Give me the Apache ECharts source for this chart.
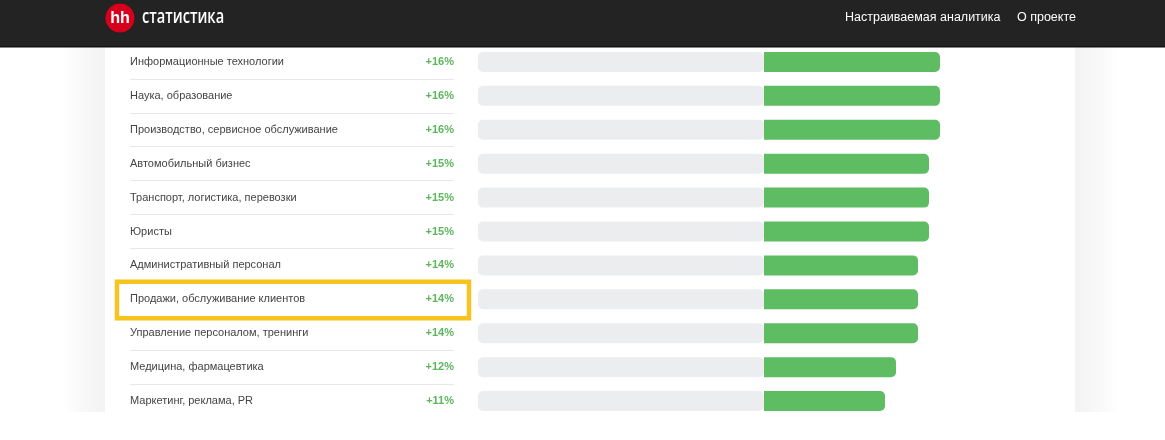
<!DOCTYPE html>
<html>
<head>
<meta charset="utf-8">
<script src="https://cdn.jsdelivr.net/npm/echarts@6/dist/echarts.min.js"></script>
<style>
html,body{margin:0;padding:0;background:#fff;}
#chart{width:1165px;height:440px;}
</style>
</head>
<body>
<div id="chart"></div>
<script>
// ---- data ----
const categories = [
  'Информационные технологии',
  'Наука, образование',
  'Производство, сервисное обслуживание',
  'Автомобильный бизнес',
  'Транспорт, логистика, перевозки',
  'Юристы',
  'Административный персонал',
  'Продажи, обслуживание клиентов',
  'Управление персоналом, тренинги',
  'Медицина, фармацевтика',
  'Маркетинг, реклама, PR'
];
const values = [16, 16, 16, 15, 15, 15, 14, 14, 14, 12, 11];
const percentLabels = ['+16%', '+16%', '+16%', '+15%', '+15%', '+15%', '+14%', '+14%', '+14%', '+12%', '+11%'];
const trackMin = -26;
const trackValues = categories.map(() => trackMin);
const highlightCategory = 'Продажи, обслуживание клиентов';
const headerTitle = 'статистика';
const navItems = ['Настраиваемая аналитика', 'О проекте'];

const FONT = "'Liberation Sans', Arial, sans-serif";
const chart = echarts.init(document.getElementById('chart'), null, {renderer: 'canvas'});

const gridTop = 45, gridBottom = 22;

chart.setOption({
  animation: false,
  backgroundColor: '#ffffff',
  grid: [
    {left: 478, right: 225, top: gridTop, bottom: gridBottom},
    {left: 130, right: 1165 - 454, top: gridTop, bottom: gridBottom}
  ],
  xAxis: [
    {gridIndex: 0, type: 'value', min: trackMin, max: 16, show: false},
    {gridIndex: 1, type: 'value', min: 0, max: 1, show: false}
  ],
  yAxis: [
    {
      gridIndex: 0, type: 'category', data: categories, inverse: true,
      axisLine: {show: false}, axisTick: {show: false}, splitLine: {show: false},
      axisLabel: {align: 'left', margin: 348, color: '#444', fontSize: 11, fontFamily: FONT, padding: [4, 0, 0, 0]}
    },
    {
      gridIndex: 0, type: 'category', data: percentLabels, inverse: true, position: 'left',
      axisLine: {show: false}, axisTick: {show: false}, splitLine: {show: false},
      axisLabel: {align: 'right', margin: 24, color: '#5cb65c', fontSize: 11, fontWeight: 'bold', fontFamily: FONT, padding: [4, 0, 0, 0]}
    },
    {
      gridIndex: 1, type: 'category', data: categories, inverse: true,
      axisLine: {show: false}, axisTick: {show: false}, axisLabel: {show: false},
      splitLine: {show: true, lineStyle: {color: '#e7e7e7', width: 1}}
    }
  ],
  series: [
    {
      type: 'bar', xAxisIndex: 0, yAxisIndex: 0, data: trackValues, barWidth: 20,
      itemStyle: {color: '#ecedef', borderRadius: 5}, silent: true
    },
    {
      type: 'bar', xAxisIndex: 0, yAxisIndex: 0, data: values, barWidth: 20, barGap: '-100%',
      itemStyle: {color: '#5ebd62', borderRadius: [0, 5, 5, 0]}, silent: true
    },
    {
      type: 'bar', xAxisIndex: 1, yAxisIndex: 2, data: categories.map(() => 0), silent: true
    }
  ]
});

// highlight box around the selected category row
const hy = chart.convertToPixel({yAxisIndex: 0}, highlightCategory);
const rowH = (440 - gridTop - gridBottom) / categories.length;

chart.setOption({
  graphic: [
    // card side shading
    {type: 'rect', z: -10, shape: {x: 62, y: 47, width: 43, height: 365},
     style: {fill: new echarts.graphic.LinearGradient(0, 0, 1, 0, [{offset: 0, color: 'rgba(240,240,240,0)'}, {offset: 1, color: '#f3f3f3'}])}},
    {type: 'rect', z: -10, shape: {x: 1075, y: 47, width: 45, height: 365},
     style: {fill: new echarts.graphic.LinearGradient(0, 0, 1, 0, [{offset: 0, color: '#f3f3f3'}, {offset: 1, color: 'rgba(240,240,240,0)'}])}},
    // cover below the card
    {type: 'rect', z: 50, shape: {x: 0, y: 412, width: 1165, height: 28}, style: {fill: '#ffffff'}},
    // highlight
    {type: 'rect', z: 60, shape: {x: 117, y: hy - rowH / 2 - 0.5, width: 352, height: rowH + 2.5},
     style: {fill: 'none', stroke: '#f6c31f', lineWidth: 4.5}},
    // header
    {type: 'rect', z: 100, shape: {x: 0, y: 0, width: 1165, height: 47}, style: {fill: '#232323'}},
    {type: 'rect', z: 100, shape: {x: 0, y: 46, width: 1165, height: 1.5}, style: {fill: '#111'}},
    {type: 'circle', z: 101, shape: {cx: 120, cy: 18, r: 14.5}, style: {fill: '#d6001c'}},
    {type: 'text', z: 102, x: 120, y: 18, scaleX: 0.95,
     style: {text: 'hh', fill: '#fff', font: "bold 17px 'Liberation Sans', Arial, sans-serif", align: 'center', verticalAlign: 'middle'}},
    {type: 'text', z: 102, x: 142, y: 18, scaleX: 0.77,
     style: {text: headerTitle, fill: '#fff', font: "600 19px 'Open Sans', sans-serif", align: 'left', verticalAlign: 'middle'}},
    {type: 'text', z: 102, x: 845, y: 18,
     style: {text: navItems[0], fill: '#fff', font: "12.5px 'Liberation Sans', Arial, sans-serif", align: 'left', verticalAlign: 'middle'}},
    {type: 'text', z: 102, x: 1017, y: 18,
     style: {text: navItems[1], fill: '#fff', font: "12.5px 'Liberation Sans', Arial, sans-serif", align: 'left', verticalAlign: 'middle'}}
  ]
});
</script>
</body>
</html>
